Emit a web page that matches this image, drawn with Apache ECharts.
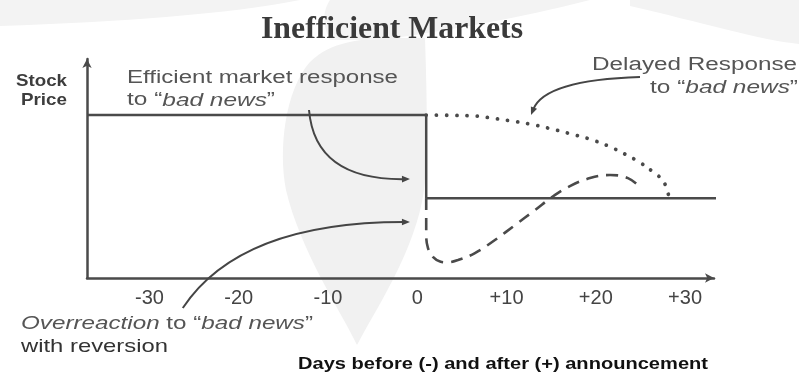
<!DOCTYPE html>
<html>
<head>
<meta charset="utf-8">
<title>Inefficient Markets</title>
<script src="https://cdn.jsdelivr.net/npm/echarts@6/dist/echarts.min.js"></script>
<style>
  html, body { margin: 0; padding: 0; background: #ffffff; }
  #chart { width: 799px; height: 374px; }
</style>
</head>
<body>
<div id="chart"></div>
<script>
// Day offsets labelled on the horizontal axis
const tickDays = [-30, -20, -10, 0, 10, 20, 30];
const tickLabels = ['-30', '-20', '-10', '0', '+10', '+20', '+30'];

// Price paths, indexed so that the pre-announcement level is 100
const efficientDays  = [-37, 1, 1, 34.2];
const efficientPrice = [100, 100, 49, 49];

const delayedDays  = [1, 4, 6.7, 8.5, 10.4, 12.8, 15.1, 17.3, 19.4, 21.4, 23.3, 25, 26.4, 27.6, 28.2];
const delayedPrice = [100, 99.8, 99.3, 98, 96.5, 94.3, 91.4, 88.3, 85.1, 81, 75.9, 70.7, 65.2, 59.1, 49.5];

const overreactDays  = [1, 1, 1.2, 1.75, 2.55, 3.33, 4.56, 6.46, 8.7, 10.95, 13.2, 15.1, 17.1, 19.35, 21.6, 23.6, 25.1];
const overreactPrice = [49, 26.4, 18.4, 12.9, 10.1, 9.6, 11, 15.3, 23.3, 32.5, 41.7, 49.7, 56.4, 61.3, 63.2, 61.3, 55.2];

// Callout arrows (quadratic curves in day / price space: start, control, tip)
const calloutArrows = [
  { from: [-12.13, 103.1], via: [-11.46, 60.1], to: [-0.82, 60.7] },
  { from: [-26.27, -18.4], via: [-19.88, 34.4], to: [-0.82, 34.4] },
  { from: [24.95, 123.3],  via: [14.3, 121.5],  to: [12.74, 100] }
];

const zip = (xs, ys) => xs.map((x, i) => [x, ys[i]]);

const SANS = "'Liberation Sans', Arial, sans-serif";
const INK = '#4a4a4a';

const chart = echarts.init(document.getElementById('chart'), null, { renderer: 'canvas' });

chart.setOption({
  animation: false,
  backgroundColor: '#ffffff',
  grid: { left: 87, right: 85, top: 59, bottom: 96, containLabel: false },
  xAxis: {
    type: 'value',
    min: -37,
    max: 33.24,
    axisLine: {
      onZero: false,
      symbol: ['none', 'arrow'],
      symbolSize: [7, 9],
      lineStyle: { color: INK, width: 2.5 }
    },
    axisTick: { show: false },
    splitLine: { show: false },
    axisLabel: {
      customValues: tickDays,
      formatter: v => tickLabels[tickDays.indexOf(v)],
      margin: 10,
      fontSize: 20,
      fontFamily: SANS,
      color: '#444'
    }
  },
  yAxis: {
    type: 'value',
    min: 0,
    max: 134.4,
    axisLine: {
      show: true,
      onZero: false,
      symbol: ['none', 'arrow'],
      symbolSize: [7, 9],
      lineStyle: { color: INK, width: 2.5 }
    },
    axisTick: { show: false },
    splitLine: { show: false },
    axisLabel: { show: false }
  },
  series: [
    {
      name: 'Efficient market response',
      type: 'line',
      data: zip(efficientDays, efficientPrice),
      showSymbol: false,
      symbol: 'none',
      clip: false,
      lineStyle: { color: INK, width: 2.5 },
      z: 3
    },
    {
      name: 'Delayed response',
      type: 'line',
      data: zip(delayedDays, delayedPrice),
      smooth: 0.4,
      symbol: 'none',
      clip: false,
      lineStyle: { color: INK, width: 3.8, type: [0.01, 10.2], cap: 'round' },
      z: 2
    },
    {
      name: 'Overreaction with reversion',
      type: 'line',
      data: zip(overreactDays, overreactPrice),
      smooth: 0.4,
      symbol: 'none',
      clip: false,
      lineStyle: { color: INK, width: 2.6, type: [12, 8] },
      z: 2
    }
  ]
});

// ---- text blocks: each line is stretched to its measured span ----
const measureCtx = document.createElement('canvas').getContext('2d');
function fontString(size, weight, italic, family) {
  return (italic ? 'italic ' : '') + (weight || 'normal') + ' ' + size + 'px ' + family;
}
function textLine(o) {
  const family = o.family || SANS;
  const weight = o.weight || 'normal';
  let natural = 0;
  let str = '';
  o.parts.forEach(p => {
    const italic = Array.isArray(p);
    const s = italic ? p[0] : p;
    measureCtx.font = fontString(o.size, weight, italic, family);
    natural += measureCtx.measureText(s).width;
    str += italic ? '{i|' + s + '}' : s;
  });
  const sx = o.width ? o.width / natural : 1;
  const base = { fontSize: o.size, fontFamily: family, fontWeight: weight, fontStyle: 'normal' };
  return {
    type: 'text',
    x: o.x,
    y: o.y,
    scaleX: sx,
    silent: true,
    z: 10,
    style: Object.assign({}, base, {
      text: str,
      fill: o.color,
      align: o.align, textAlign: o.align,
      verticalAlign: 'middle', textVerticalAlign: 'middle',
      rich: { i: Object.assign({}, base, { fontStyle: 'italic', fill: o.color }) }
    })
  };
}

const texts = [
  textLine({ parts: ['Inefficient Markets'], x: 392, y: 30, align: 'center', size: 32, weight: 'bold',
             family: "'Liberation Serif', 'Times New Roman', serif", color: '#3a3a3a', width: 262 }),
  textLine({ parts: ['Stock'], x: 67, y: 81, align: 'right', size: 17, weight: 'bold', color: '#3d3d3d', width: 51 }),
  textLine({ parts: ['Price'], x: 67, y: 100.5, align: 'right', size: 17, weight: 'bold', color: '#3d3d3d', width: 46 }),
  textLine({ parts: ['Efficient market response'], x: 127, y: 78, align: 'left', size: 18, color: '#555', width: 271 }),
  textLine({ parts: ['to \u201c', ['bad news'], '\u201d'], x: 127, y: 100.5, align: 'left', size: 18, color: '#555', width: 148 }),
  textLine({ parts: ['Delayed Response'], x: 797, y: 65, align: 'right', size: 18, color: '#555', width: 205 }),
  textLine({ parts: ['to \u201c', ['bad news'], '\u201d'], x: 798, y: 88, align: 'right', size: 18, color: '#555', width: 148 }),
  textLine({ parts: [['Overreaction'], ' to \u201c', ['bad news'], '\u201d'], x: 21, y: 323.5, align: 'left', size: 19, color: '#555', width: 292 }),
  textLine({ parts: ['with reversion'], x: 21, y: 347, align: 'left', size: 19, color: '#333', width: 147 }),
  textLine({ parts: ['Days before (-) and after (+) announcement'], x: 298, y: 364, align: 'left', size: 17, weight: 'bold', color: '#111', width: 410 })
];

// ---- faint watermark emblem behind the plot ----
// Outlines are written as simple M / L / C / Z paths and flattened into polygons.
function flattenPath(d) {
  const tok = d.match(/[MLCZ]|-?\d*\.?\d+/g);
  const pts = [];
  let i = 0, cmd = null, cur = [0, 0];
  const num = () => parseFloat(tok[i++]);
  while (i < tok.length) {
    if (/[MLCZ]/.test(tok[i])) cmd = tok[i++];
    if (cmd === 'Z') break;
    if (cmd === 'M' || cmd === 'L') {
      cur = [num(), num()];
      pts.push(cur);
    } else if (cmd === 'C') {
      const a = cur, b = [num(), num()], c = [num(), num()], e = [num(), num()];
      for (let k = 1; k <= 16; k++) {
        const t = k / 16, u = 1 - t;
        pts.push([
          u * u * u * a[0] + 3 * u * u * t * b[0] + 3 * u * t * t * c[0] + t * t * t * e[0],
          u * u * u * a[1] + 3 * u * u * t * b[1] + 3 * u * t * t * c[1] + t * t * t * e[1]
        ]);
      }
      cur = e;
    }
  }
  return pts;
}
const watermarkOutlines = [
  ['M357,345 C340,310 300,250 286,190 C278,150 285,90 310,62 C330,42 360,38 400,38 L425,38 C427,100 428,150 424,190 C416,250 375,310 357,345 Z', '#f1f1f1'],
  ['M0,0 L300,0 C230,14 120,22 0,26 Z', '#f3f3f3'],
  ['M330,0 L590,0 C520,18 450,30 380,40 L330,40 C320,20 325,8 330,0 Z', '#f3f3f3'],
  ['M630,0 L799,0 L799,44 C760,40 700,22 630,6 Z', '#f3f3f3']
];
const watermark = watermarkOutlines.map(([d, fill]) => ({
  type: 'polygon', silent: true, z: -10,
  shape: { points: flattenPath(d) },
  style: { fill: fill }
}));

// ---- callout arrows, placed through the grid's own scales ----
function arrowGraphics(a) {
  const p0 = chart.convertToPixel({ gridIndex: 0 }, a.from);
  const c  = chart.convertToPixel({ gridIndex: 0 }, a.via);
  const p2 = chart.convertToPixel({ gridIndex: 0 }, a.to);
  let dx = p2[0] - c[0], dy = p2[1] - c[1];
  const L = Math.hypot(dx, dy);
  dx /= L; dy /= L;
  const len = 8, hw = 3.3;
  const bx = p2[0] - dx * len, by = p2[1] - dy * len;
  return [
    { type: 'bezierCurve', silent: true, z: 5,
      shape: { x1: p0[0], y1: p0[1], cpx1: c[0], cpy1: c[1], x2: bx + dx * 2, y2: by + dy * 2 },
      style: { stroke: '#454545', lineWidth: 2, fill: 'none' } },
    { type: 'polygon', silent: true, z: 5,
      shape: { points: [[p2[0], p2[1]], [bx - dy * hw, by + dx * hw], [bx + dy * hw, by - dx * hw]] },
      style: { fill: '#454545' } }
  ];
}

const arrows = [];
calloutArrows.forEach(a => arrows.push(...arrowGraphics(a)));

chart.setOption({ graphic: { elements: watermark.concat(arrows, texts) } });
</script>
</body>
</html>
